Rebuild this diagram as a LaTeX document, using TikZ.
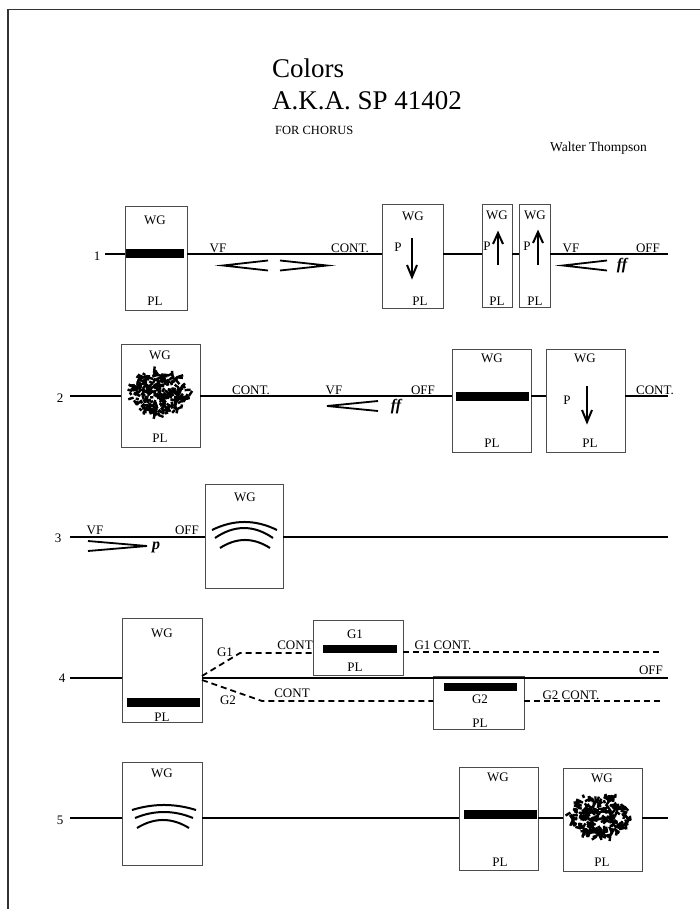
\documentclass[tikz,border=0pt]{standalone}
\usepackage{fontspec}
\setmainfont{Liberation Serif}
\tikzset{
  box/.style={draw=black!70,line width=1pt,inner sep=0pt,outer sep=0pt,anchor=north west},
  lbl/.style={inner sep=0pt,font=\fontsize{13}{15}\selectfont},
  staff/.style={line width=2pt},
  hp/.style={line width=1.8pt,line join=miter},
  gline/.style={line width=1.8pt,dash pattern=on 6pt off 4pt},
  dyn/.style={inner sep=0pt,font=\fontsize{16}{18}\selectfont\bfseries\itshape},
  arcl/.style={line width=2pt}
}
\newcommand{\mybox}[5]{\node[box,minimum width=#4pt,minimum height=#5pt] (#1) at (#2,#3) {};}
\newcommand{\downarr}[3]{\draw[staff] (#1,#2) -- (#1,#3);\draw[staff,line join=miter] (#1-5,#3-12) -- (#1,#3) -- (#1+5,#3-12);}
\newcommand{\uparr}[3]{\draw[staff] (#1,#3) -- (#1,#2);\draw[staff,line join=miter] (#1-5,#2+11) -- (#1,#2) -- (#1+5,#2+11);}
\newcommand{\scribble}[4]{%
  \pgfmathsetseed{#4}%
  \foreach \i in {1,...,240}{%
    \pgfmathsetmacro\ang{rnd*360}%
    \pgfmathsetmacro\rad{sqrt(rnd)*0.9}%
    \pgfmathsetmacro\dir{rnd*360}%
    \pgfmathsetmacro\len{3+rnd*4}%
    \draw[line width=2.4pt] ({#1+\rad*#3*cos(\ang)},{#2+\rad*0.7*#3*sin(\ang)}) -- ++(\dir:\len);
  }}
\begin{document}
\begin{tikzpicture}[x=1pt,y=-1pt]
\useasboundingbox (0,0) rectangle (700,909);
% page border
\draw[black!80,line width=1.5pt] (8,909) -- (8,9.5) -- (700,9.5);
% title
\node[anchor=base west,inner sep=0pt,font=\fontsize{27}{30}\selectfont] (t1) at (272,78) {Colors};
\node[anchor=base west,inner sep=0pt,font=\fontsize{27}{30}\selectfont] (t2) at (272,110) {A.K.A. SP 41402};
\node[anchor=base west,inner sep=0pt,font=\fontsize{12.5}{14}\selectfont] (t3) at (275,135) {FOR CHORUS};
\node[anchor=base west,inner sep=0pt,font=\fontsize{13.5}{15}\selectfont] (t4) at (550,152) {Walter Thompson};

% ================= Row 1 =================
\node[lbl] (n1) at (97,256) {1};
\coordinate (r1a) at (105,254);
\coordinate (r1z) at (668,254);
\mybox{b1}{125}{207}{62}{103}
\mybox{b2}{382}{205}{61}{103}
\mybox{b3}{482}{205}{30}{102}
\mybox{b4}{519}{205}{31}{102}
\draw[staff] (r1a) -- (b1.west |- r1a);
\draw[staff] (b1.east |- r1a) -- (b2.west |- r1a);
\draw[staff] (b2.east |- r1a) -- (b3.west |- r1a);
\draw[staff] (b3.east |- r1a) -- (b4.west |- r1a);
\draw[staff] (b4.east |- r1a) -- (r1z);
\fill (126,248.5) rectangle (184,257.5);
\node[lbl] (b1wg) at (155,220) {WG};
\node[lbl] (b1pl) at (155,301) {PL};
\node[lbl] (vf1) at (218,248) {VF};
\node[lbl] (cont1) at (350,248) {CONT.};
\draw[hp] (268,260.5) -- (223,265.5) -- (268,270.5);
\draw[hp] (280,260.5) -- (327,265.5) -- (280,270.5);
\node[lbl] (b2wg) at (413,216) {WG};
\node[lbl] (b2p) at (398,247) {P};
\downarr{412}{238}{277}
\node[lbl] (b2pl) at (420,301) {PL};
\node[lbl] (b3wg) at (497,215) {WG};
\node[lbl] (b3p) at (487,246) {P};
\uparr{498}{233}{265}
\node[lbl] (b3pl) at (497,301) {PL};
\node[lbl] (b4wg) at (535,215) {WG};
\node[lbl] (b4p) at (527,246) {P};
\uparr{538}{232}{265}
\node[lbl] (b4pl) at (535,301) {PL};
\node[lbl] (vf1b) at (571,248) {VF};
\node[lbl] (off1) at (648,248) {OFF};
\draw[hp] (607,260.5) -- (563,265.5) -- (607,270.5);
\node[dyn] (ff1) at (622,266) {ff};

% ================= Row 2 =================
\node[lbl] (n2) at (60,398) {2};
\coordinate (r2a) at (70,396);
\coordinate (r2z) at (668,396);
\mybox{b5}{121}{344}{79}{103}
\mybox{b6}{452}{349}{79}{103}
\mybox{b7}{546}{349}{79}{103}
\draw[staff] (r2a) -- (b5.west |- r2a);
\draw[staff] (b5.east |- r2a) -- (b6.west |- r2a);
\draw[staff] (b6.east |- r2a) -- (b7.west |- r2a);
\draw[staff] (b7.east |- r2a) -- (r2z);
\node[lbl] (b5wg) at (160,355) {WG};
\scribble{159}{394}{34}{11}
\node[lbl] (b5pl) at (160,438) {PL};
\node[lbl] (cont2) at (251,390) {CONT.};
\node[lbl] (vf2) at (334,390) {VF};
\draw[hp] (378,401) -- (327,406) -- (378,411);
\node[dyn] (ff2) at (396,407) {ff};
\node[lbl] (off2) at (423,390) {OFF};
\node[lbl] (b6wg) at (492,358) {WG};
\fill (456,392) rectangle (529,400.5);
\node[lbl] (b6pl) at (492,443) {PL};
\node[lbl] (b7wg) at (585,358) {WG};
\node[lbl] (b7p) at (567,400) {P};
\downarr{587}{386}{422}
\node[lbl] (b7pl) at (590,443) {PL};
\node[lbl] (cont2b) at (655,390) {CONT.};

% ================= Row 3 =================
\node[lbl] (n3) at (58,538) {3};
\coordinate (r3a) at (70,537);
\coordinate (r3z) at (668,537);
\mybox{b8}{205}{484}{78}{104}
\draw[staff] (r3a) -- (b8.west |- r3a);
\draw[staff] (b8.east |- r3a) -- (r3z);
\node[lbl] (vf3) at (95,530) {VF};
\node[lbl] (off3) at (187,530) {OFF};
\draw[hp] (88,541) -- (147,546) -- (88,551);
\node[dyn] (p3) at (156,547) {p};
\node[lbl] (b8wg) at (245,497) {WG};
\draw[arcl] (212,530) .. controls (233.7,519.3) and (255.3,519.3) .. (277,530);
\draw[arcl] (215,538) .. controls (234.3,524.7) and (253.7,524.7) .. (273,538);
\draw[arcl] (220,548) .. controls (236.7,537.3) and (253.3,537.3) .. (270,548);

% ================= Row 4 =================
\node[lbl] (n4) at (62,678) {4};
\coordinate (r4a) at (70,678);
\coordinate (r4z) at (668,678);
\mybox{b9}{122}{618}{80}{104}
\mybox{g1}{313}{620}{90}{55}
\mybox{g2}{433}{676}{91}{53}
\draw[staff] (r4a) -- (b9.west |- r4a);
\draw[staff] (b9.east |- r4a) -- (r4z);
\node[lbl] (b9wg) at (162,633) {WG};
\fill (127,698) rectangle (200,707);
\node[lbl] (b9pl) at (162,717) {PL};
\coordinate (g1k) at (240,653);
\coordinate (g2k) at (262,701);
\coordinate (g1z) at (660,652);
\coordinate (g2z) at (663,701);
\draw[gline] (b9.east |- 0,676) -- (g1k) -- (g1.west |- g1k);
\draw[gline] (b9.east |- 0,680) -- (g2k) -- (g2.west |- g2k);
\draw[gline] (g1.east |- g1z) -- (g1z);
\draw[gline] (g2.east |- g2z) -- (g2z);
\node[lbl] (lg1) at (225,652) {G1};
\node[lbl] (lg2) at (228,700) {G2};
\node[lbl] (c4a) at (295,645) {CONT};
\node[lbl] (c4b) at (292,693) {CONT};
\node[lbl] (g1t) at (355,634) {G1};
\fill (323,645) rectangle (397,653);
\node[lbl] (g1pl) at (355,667) {PL};
\node[lbl] (g1c) at (443,645) {G1 CONT.};
\node[lbl] (off4) at (651,670) {OFF};
\fill (444,683) rectangle (517,691);
\node[lbl] (g2t) at (480,699) {G2};
\node[lbl] (g2pl) at (480,723) {PL};
\node[lbl] (g2c) at (571,695) {G2 CONT.};

% ================= Row 5 =================
\node[lbl] (n5) at (60,820) {5};
\coordinate (r5a) at (70,818);
\coordinate (r5z) at (668,818);
\mybox{b10}{122}{762}{80}{103}
\mybox{b11}{459}{767}{79}{103}
\mybox{b12}{563}{768}{79}{103}
\draw[staff] (r5a) -- (b10.west |- r5a);
\draw[staff] (b10.east |- r5a) -- (b11.west |- r5a);
\draw[staff] (b11.east |- r5a) -- (b12.west |- r5a);
\draw[staff] (b12.east |- r5a) -- (r5z);
\node[lbl] (b10wg) at (162,773) {WG};
\draw[arcl] (132,810) .. controls (153.3,803.3) and (174.7,803.3) .. (196,810);
\draw[arcl] (135,818) .. controls (154.3,810) and (173.7,810) .. (193,818);
\draw[arcl] (137,828) .. controls (154.3,817.3) and (171.7,817.3) .. (189,828);
\node[lbl] (b11wg) at (498,777) {WG};
\fill (464,809.5) rectangle (537,818.5);
\node[lbl] (b11pl) at (500,862) {PL};
\node[lbl] (b12wg) at (602,778) {WG};
\scribble{600}{816}{34}{7}
\node[lbl] (b12pl) at (602,862) {PL};
\end{tikzpicture}
\end{document}
